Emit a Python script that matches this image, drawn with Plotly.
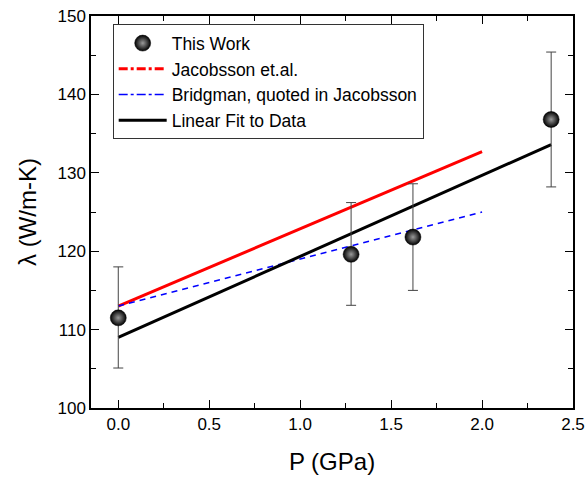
import plotly.graph_objects as go

# Data
p_work = [0.0, 1.28, 1.62, 2.38]
lam_work = [111.5, 119.6, 121.8, 136.8]
err_plus = [6.5, 6.6, 6.8, 8.6]
err_minus = [6.4, 6.5, 6.8, 8.6]

p_jac = [0.0, 2.0]
lam_jac = [113.0, 132.7]

p_bri = [0.0, 2.0]
lam_bri = [113.0, 125.0]

p_fit = [0.0, 2.38]
lam_fit = [109.0, 133.6]

font_family = "Liberation Sans, Arial, sans-serif"

fig = go.Figure()

fig.add_trace(go.Scatter(x=p_jac, y=lam_jac, mode="lines",
                         line=dict(color="#ff0000", width=3), showlegend=False))
fig.add_trace(go.Scatter(x=p_bri, y=lam_bri, mode="lines",
                         line=dict(color="#0000ff", width=1.5, dash="6px,5px"), showlegend=False))
fig.add_trace(go.Scatter(x=p_fit, y=lam_fit, mode="lines",
                         line=dict(color="#000000", width=3), showlegend=False))

fig.add_trace(go.Scatter(x=p_work, y=lam_work, mode="markers", name="This Work",
                         marker=dict(size=16, color="#000000", symbol="circle",
                                     gradient=dict(type="radial", color="#9a9a9a"),
                                     line=dict(width=0.5, color="#000000")),
                         error_y=dict(type="data", symmetric=False, array=err_plus,
                                      arrayminus=err_minus, color="#444444",
                                      thickness=1, width=5)))
fig.add_trace(go.Scatter(x=[None], y=[None], mode="lines", name="Jacobsson et.al.",
                         line=dict(color="#ff0000", width=3, dash="dashdot")))
fig.add_trace(go.Scatter(x=[None], y=[None], mode="lines", name="Bridgman, quoted in Jacobsson",
                         line=dict(color="#0000ff", width=1.5, dash="dashdot")))
fig.add_trace(go.Scatter(x=[None], y=[None], mode="lines", name="Linear Fit to Data",
                         line=dict(color="#000000", width=3)))

axis_common = dict(showline=True, linecolor="black", linewidth=1.5, mirror="ticks",
                   ticks="inside", ticklen=8, tickwidth=1.2, tickcolor="black",
                   showgrid=False, zeroline=False, automargin=False,
                   tickfont=dict(family=font_family, size=17, color="black"))

fig.update_xaxes(range=[-0.15, 2.5], dtick=0.5, tick0=0, tickformat=".1f",
                 title=dict(text="P (GPa)", font=dict(family=font_family, size=24, color="black"),
                            standoff=20),
                 minor=dict(ticks="inside", ticklen=5, dtick=0.25, tickcolor="black", tickwidth=1.2),
                 **axis_common)
fig.update_yaxes(range=[100, 150], dtick=10,
                 title=dict(text="λ (W/m-K)", font=dict(family=font_family, size=24, color="black"),
                            standoff=14),
                 minor=dict(ticks="inside", ticklen=5, dtick=5, tickcolor="black", tickwidth=1.2),
                 **axis_common)

fig.update_layout(
    width=585, height=479,
    margin=dict(l=91, r=12, t=16, b=71),
    plot_bgcolor="white", paper_bgcolor="white",
    legend=dict(x=0.045, y=0.979, xanchor="left", yanchor="top",
                bordercolor="#333333", borderwidth=1, bgcolor="white",
                font=dict(family=font_family, size=17.5, color="black"),
                tracegroupgap=0, itemwidth=48),
    showlegend=True,
)

fig.write_html("out.html")
